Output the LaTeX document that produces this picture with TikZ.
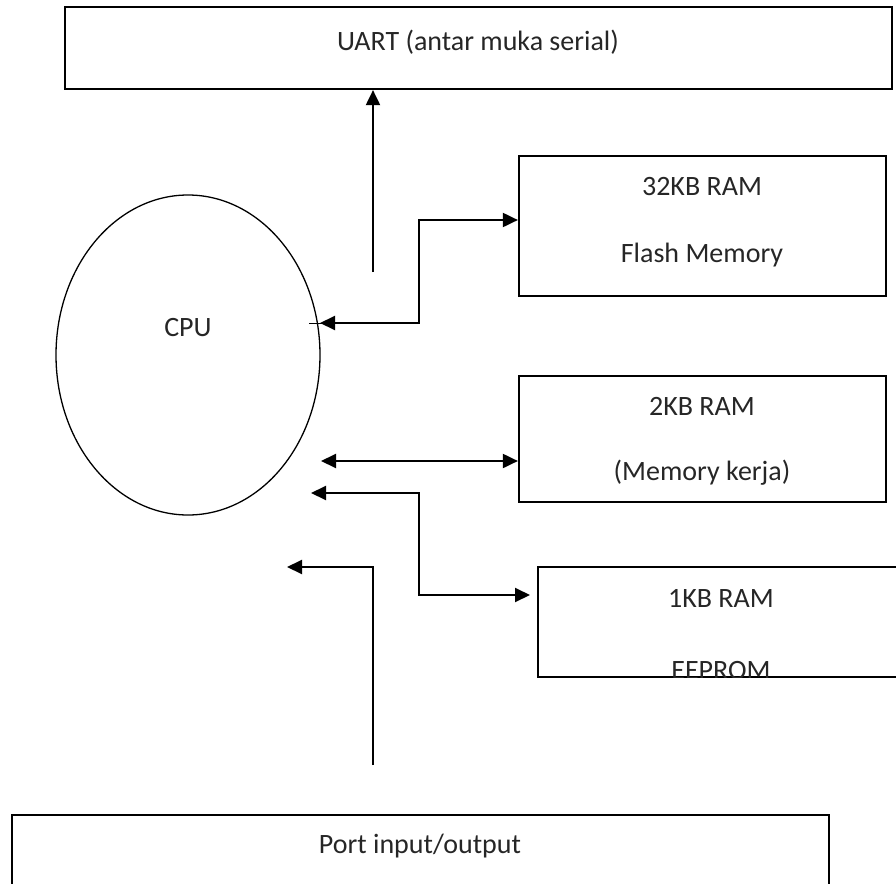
\documentclass[tikz,border=0pt]{standalone}
\usepackage{fontspec}
\setmainfont{Carlito}
\usepackage{tikz}
\usetikzlibrary{arrows.meta,shapes.geometric}

\begin{document}
\begin{tikzpicture}[x=0.5pt,y=-0.5pt,
  blok/.style={draw, line width=1.1pt, rectangle, inner sep=0pt},
  teks/.style={font=\fontsize{14}{17}\selectfont, text=black!85, inner sep=0pt},
  panah/.style={line width=1pt, -{Triangle[length=7.5pt,width=7pt]}},
  dua/.style={line width=1pt, {Triangle[length=7.5pt,width=7pt]}-{Triangle[length=7.5pt,width=7pt]}}]
\clip (0,0) rectangle (896,884);
% kotak-kotak
\node[blok, minimum width=413.5pt, minimum height=41pt] (uart) at (478.5,48) {};
\node[blok, minimum width=183.5pt, minimum height=70pt] (flash) at (702.5,226) {};
\node[blok, minimum width=183.5pt, minimum height=63pt] (kerja) at (702.5,439) {};
\node[blok, minimum width=183pt, minimum height=55pt] (eeprom) at (721,622) {};
\node[blok, minimum width=408.5pt, minimum height=45pt] (port) at (420.5,860) {};
\node[draw, ellipse, line width=0.65pt, minimum width=132pt, minimum height=160pt, inner sep=0pt] (cpu) at (188,355) {};
% tulisan
\node[teks] (uarttxt) at (478,42) {UART (antar muka serial)};
\node[teks] (flash1) at (702,187) {32KB RAM};
\node[teks] (flash2) at (702,255) {Flash Memory};
\node[teks] (cputxt) at (188,328) {CPU};
\node[teks] (kerja1) at (702,406) {2KB RAM};
\node[teks] (kerja2) at (702,473) {(Memory kerja)};
\node[teks] (eeprom1) at (721,598) {1KB RAM};
\begin{scope}
\clip (538,567) rectangle (904,677);
\node[teks] (eeprom2) at (721,671) {EEPROM};
\end{scope}
\node[teks] (porttxt) at (420,846) {Port input/output};
% titik bantu
\coordinate (u0) at (373,272);
\coordinate (cpuin) at (320,323);
\coordinate (tk) at (309,323);
\coordinate (fa) at (419,323);
\coordinate (fb) at (419,220);
\coordinate (ka) at (321,461);
\coordinate (ea) at (311,493);
\coordinate (eb) at (419,493);
\coordinate (ec) at (419,595);
\coordinate (ed) at (530,595);
\coordinate (pa) at (373,765);
\coordinate (pb) at (373,567);
\coordinate (pc) at (287,567);
% panah
\draw[panah] (u0) -- (u0 |- uart.south);
\draw[line width=0.5pt] (tk) -- (u0 |- tk);
\draw[dua] (cpuin) -- (fa) -- (fb) -- (fb -| flash.west);
\draw[dua] (ka) -- (ka -| kerja.west);
\draw[dua] (ea) -- (eb) -- (ec) -- (ed);
\draw[panah] (pa) -- (pb) -- (pc);
\end{tikzpicture}
\end{document}
